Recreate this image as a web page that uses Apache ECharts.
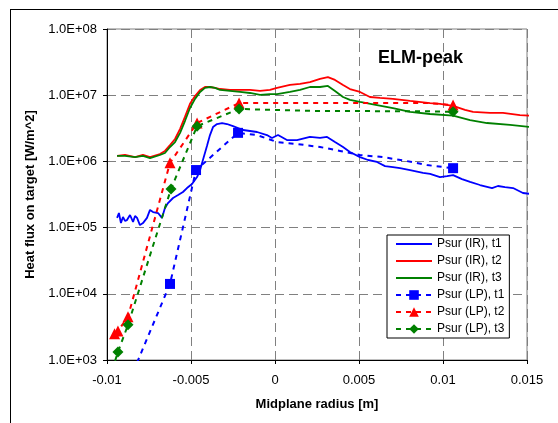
<!DOCTYPE html>
<html>
<head>
<meta charset="utf-8">
<script src="https://cdn.jsdelivr.net/npm/echarts@6/dist/echarts.min.js"></script>
<style>
  body { margin: 0; background: #fff; }
  #frame { position: absolute; left: 10px; top: 9px; width: 700px; height: 600px; border: 1px solid #000; }
  #main { position: absolute; left: 0; top: 0; width: 558px; height: 423px; }
</style>
</head>
<body>
<div id="frame"></div>
<div id="main"></div>
<script>
// IR camera profiles (x = midplane radius [m], y = heat flux [W/m^2])
var irT1X = [-0.00940,-0.00929,-0.00917,-0.00905,-0.00893,-0.00881,-0.00863,-0.00845,-0.00833,-0.00821,-0.00804,-0.00786,-0.00762,-0.00744,-0.00726,-0.00696,-0.00673,-0.00655,-0.00637,-0.00607,-0.00577,-0.00548,-0.00524,-0.00494,-0.00464,-0.00446,-0.00429,-0.00405,-0.00387,-0.00369,-0.00345,-0.00315,-0.00286,-0.00250,-0.00190,-0.00149,-0.00107,-0.00048,-0.00018,0.00018,0.00071,0.00131,0.00208,0.00268,0.00310,0.00357,0.00405,0.00446,0.00506,0.00554,0.00607,0.00655,0.00702,0.00744,0.00804,0.00881,0.00923,0.00982,0.01024,0.01060,0.01113,0.01161,0.01220,0.01292,0.01327,0.01369,0.01417,0.01476,0.01530];
var irT1Y = [1.40e5,1.66e5,1.17e5,1.45e5,1.26e5,1.30e5,1.55e5,1.22e5,1.50e5,1.40e5,1.09e5,1.17e5,1.40e5,1.85e5,1.72e5,1.66e5,1.40e5,1.98e5,2.35e5,2.8e5,3.1e5,3.45e5,3.96e5,4.56e5,5.8e5,7.4e5,1.05e6,1.71e6,2.5e6,3.3e6,3.67e6,3.8e6,3.67e6,3.4e6,2.98e6,2.88e6,2.78e6,2.5e6,2.26e6,2.5e6,2.1e6,2.1e6,2.34e6,2.26e6,2.34e6,1.96e6,1.65e6,1.39e6,1.16e6,1.05e6,9.8e5,8.5e5,8.2e5,7.9e5,7.4e5,6.7e5,6.5e5,5.8e5,6.0e5,6.2e5,5.4e5,4.9e5,4.4e5,3.96e5,4.25e5,4.1e5,3.96e5,3.33e5,3.2e5];

var irT2X = [-0.00940,-0.00893,-0.00833,-0.00786,-0.00744,-0.00685,-0.00655,-0.00625,-0.00595,-0.00565,-0.00536,-0.00506,-0.00476,-0.00446,-0.00417,-0.00387,-0.00357,-0.00327,-0.00268,-0.00208,-0.00149,-0.00089,-0.00030,0.00012,0.00089,0.00149,0.00208,0.00268,0.00315,0.00357,0.00405,0.00446,0.00506,0.00565,0.00625,0.00702,0.00804,0.00923,0.00982,0.01060,0.01131,0.01179,0.01280,0.01357,0.01458,0.01530];
var irT2Y = [1.21e6,1.25e6,1.16e6,1.25e6,1.16e6,1.29e6,1.44e6,1.77e6,2.18e6,3.1e6,4.7e6,7.4e6,9.7e6,1.2e7,1.33e7,1.33e7,1.29e7,1.24e7,1.2e7,1.2e7,1.2e7,1.16e7,1.2e7,1.29e7,1.43e7,1.48e7,1.58e7,1.76e7,1.88e7,1.70e7,1.43e7,1.24e7,1.12e7,9.4e6,9.1e6,8.8e6,8.2e6,7.6e6,7.4e6,6.9e6,6.0e6,5.6e6,5.4e6,5.4e6,5.0e6,4.9e6];

var irT3X = [-0.00940,-0.00893,-0.00833,-0.00786,-0.00744,-0.00685,-0.00655,-0.00625,-0.00595,-0.00565,-0.00536,-0.00506,-0.00476,-0.00446,-0.00417,-0.00387,-0.00357,-0.00327,-0.00268,-0.00208,-0.00149,-0.00089,-0.00030,0.00012,0.00089,0.00149,0.00208,0.00268,0.00315,0.00357,0.00405,0.00446,0.00506,0.00607,0.00702,0.00804,0.00923,0.01060,0.01161,0.01262,0.01399,0.01530];
var irT3Y = [1.21e6,1.21e6,1.16e6,1.21e6,1.12e6,1.25e6,1.34e6,1.65e6,1.96e6,2.7e6,4.07e6,6.4e6,8.8e6,1.12e7,1.29e7,1.33e7,1.29e7,1.2e7,1.16e7,1.12e7,1.08e7,1.01e7,1.04e7,1.04e7,1.12e7,1.2e7,1.33e7,1.33e7,1.38e7,1.16e7,9.4e6,8.5e6,7.9e6,7.1e6,6.4e6,5.6e6,5.2e6,4.9e6,4.2e6,3.8e6,3.55e6,3.3e6];

// Langmuir probe points (markers) and the extra points of the dotted guide line
var lpT1X = [-0.00625,-0.00470,-0.00220,0.01060];
var lpT1Y = [1.41e4,7.4e5,2.7e6,7.9e5];
var lpT1FitX = [-0.0089,-0.00107,0.00012,0.00131,0.00268,0.00387,0.00506,0.00643,0.00786,0.00905];
var lpT1FitY = [350,2.5e6,1.96e6,1.83e6,1.65e6,1.44e6,1.25e6,1.16e6,1.01e6,8.8e5];

var lpT2X = [-0.00955,-0.00935,-0.00875,-0.00625,-0.00464,-0.00214,0.01060];
var lpT2Y = [2.5e3,2.75e3,4.5e3,9.5e5,3.8e6,7.6e6,7.1e6];
var lpT2FitX = [0.0092];
var lpT2FitY = [7.6e6];

var lpT3X = [-0.00935,-0.00875,-0.00619,-0.00464,-0.00214,0.01060];
var lpT3Y = [1.32e3,3.4e3,3.83e5,3.4e6,6.2e6,5.6e6];
var lpT3FitX = [-0.0097,0.00208,0.0092];
var lpT3FitY = [700,5.8e6,5.7e6];

var xTicks = [-0.01, -0.005, 0, 0.005, 0.01, 0.015];

var FONT = '"Liberation Sans", Arial, sans-serif';

function pairs(xs, ys) {
    var out = [];
    for (var i = 0; i < xs.length; i++) out.push([xs[i], ys[i]]);
    return out;
}

// markers on measured points only, guide points get no symbol
function lpData(mx, my, fx, fy) {
    var pts = [];
    for (var i = 0; i < mx.length; i++) pts.push({ value: [mx[i], my[i]] });
    for (var j = 0; j < fx.length; j++) pts.push({ value: [fx[j], fy[j]], symbol: 'none' });
    pts.sort(function (a, b) { return a.value[0] - b.value[0]; });
    return pts;
}

function irSeries(name, color, xs, ys) {
    return {
        name: name, type: 'line', symbol: 'none', clip: false,
        lineStyle: { color: color, width: 1.8 },
        itemStyle: { color: color },
        data: pairs(xs, ys)
    };
}

function lpSeries(name, color, symbol, size, data) {
    return {
        name: name, type: 'line', symbol: symbol, symbolSize: size,
        lineStyle: { color: color, width: 2, type: [5, 5] },
        itemStyle: { color: color },
        data: data
    };
}

var myChart = echarts.init(document.getElementById('main'));
var option = {
    animation: false,
    textStyle: { fontFamily: FONT },
    grid: {
        left: 107, top: 29, right: 31, bottom: 63,
        show: true, borderColor: '#808080', borderWidth: 1, backgroundColor: '#fff'
    },
    graphic: [{
        type: 'text', left: 378, top: 49,
        style: { text: 'ELM-peak', font: 'bold 18px ' + FONT, fill: '#000' }
    }],
    legend: {
        orient: 'vertical', left: 387, top: 235,
        padding: [3, 5, 3, 8], itemWidth: 36, itemHeight: 12, itemGap: 5,
        backgroundColor: '#fff', borderColor: '#000', borderWidth: 1,
        textStyle: { fontSize: 12, color: '#000', fontFamily: FONT },
        data: [
            // IR lines have no marker in the key
            { name: 'Psur (IR), t1', itemStyle: { opacity: 0 } },
            { name: 'Psur (IR), t2', itemStyle: { opacity: 0 } },
            { name: 'Psur (IR), t3', itemStyle: { opacity: 0 } },
            'Psur (LP), t1', 'Psur (LP), t2', 'Psur (LP), t3'
        ]
    },
    xAxis: {
        type: 'value', min: xTicks[0], max: xTicks[xTicks.length - 1], interval: 0.005,
        name: 'Midplane radius [m]', nameLocation: 'middle', nameGap: 38,
        nameTextStyle: { fontWeight: 'bold', fontSize: 13, color: '#000' },
        axisLine: { onZero: false, lineStyle: { color: '#000', width: 1 } },
        axisTick: { show: true, length: 4, lineStyle: { color: '#000' } },
        axisLabel: {
            fontSize: 13, color: '#000', margin: 14,
            formatter: function (v) { return String(+v.toFixed(3)); }
        },
        splitLine: { show: true, lineStyle: { color: '#808080', type: [9, 5] } }
    },
    yAxis: {
        type: 'log', logBase: 10, min: 1e3, max: 1e8, splitNumber: 5,
        name: 'Heat flux on target [W/m^2]', nameLocation: 'middle', nameGap: 68,
        nameTextStyle: { fontWeight: 'bold', fontSize: 13, color: '#000' },
        axisLine: { show: true, onZero: false, lineStyle: { color: '#000', width: 1 } },
        axisTick: { show: true, length: 4, lineStyle: { color: '#000' } },
        axisLabel: {
            fontSize: 13, color: '#000', margin: 10,
            formatter: function (v) {
                var e = Math.round(Math.log10(v));
                return '1.0E+' + (e < 10 ? '0' : '') + e;
            }
        },
        splitLine: { show: true, lineStyle: { color: '#808080', type: [9, 5] } }
    },
    series: [
        irSeries('Psur (IR), t1', '#0000ff', irT1X, irT1Y),
        irSeries('Psur (IR), t2', '#ff0000', irT2X, irT2Y),
        irSeries('Psur (IR), t3', '#008000', irT3X, irT3Y),
        lpSeries('Psur (LP), t1', '#0000ff', 'rect', 10, lpData(lpT1X, lpT1Y, lpT1FitX, lpT1FitY)),
        lpSeries('Psur (LP), t2', '#ff0000', 'triangle', 11, lpData(lpT2X, lpT2Y, lpT2FitX, lpT2FitY)),
        lpSeries('Psur (LP), t3', '#008000', 'diamond', 11, lpData(lpT3X, lpT3Y, lpT3FitX, lpT3FitY))
    ]
};
myChart.setOption(option);
</script>
</body>
</html>
